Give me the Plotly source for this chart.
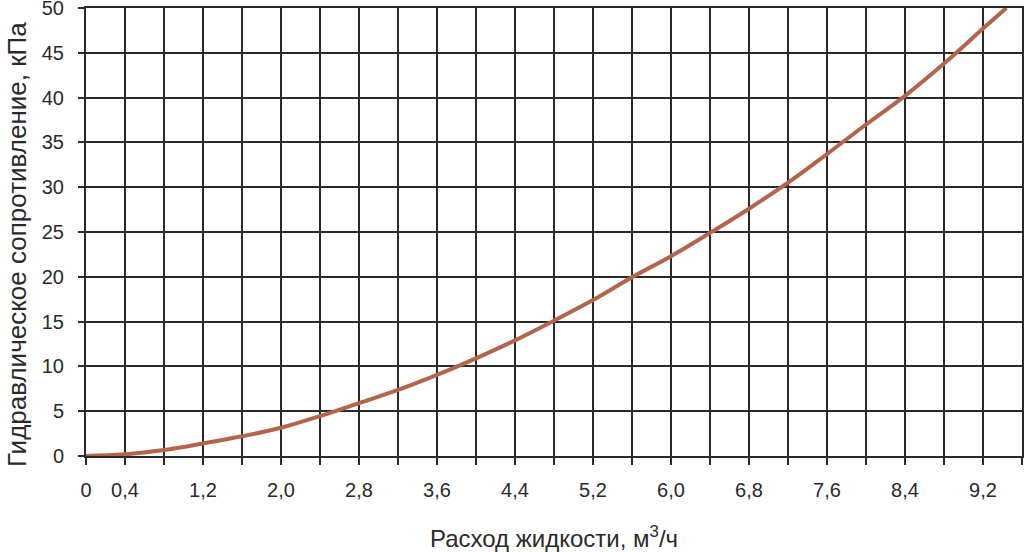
import plotly.graph_objects as go

# Data
flow = [0.0, 0.4, 0.8, 1.2, 1.6, 2.0, 2.4, 2.8, 3.2, 3.6, 4.0, 4.4, 4.8, 5.2,
        5.6, 6.0, 6.4, 6.8, 7.2, 7.6, 8.0, 8.4, 8.8, 9.2, 9.44]
pressure = [0.0, 0.19, 0.67, 1.40, 2.20, 3.15, 4.45, 5.9, 7.37, 9.05, 10.9, 12.9,
            15.1, 17.4, 19.95, 22.3, 24.9, 27.6, 30.5, 33.7, 37.0, 40.2, 43.8,
            47.7, 50.0]

x_tickvals = [0.0, 0.4, 0.8, 1.2, 1.6, 2.0, 2.4, 2.8, 3.2, 3.6, 4.0, 4.4, 4.8,
              5.2, 5.6, 6.0, 6.4, 6.8, 7.2, 7.6, 8.0, 8.4, 8.8, 9.2, 9.6]
x_ticktext = ["0", "0,4", "", "1,2", "", "2,0", "", "2,8", "", "3,6", "", "4,4",
              "", "5,2", "", "6,0", "", "6,8", "", "7,6", "", "8,4", "", "9,2", ""]
y_tickvals = [0, 5, 10, 15, 20, 25, 30, 35, 40, 45, 50]
y_ticktext = ["0", "5", "10", "15", "20", "25", "30", "35", "40", "45", "50"]

x_title = "Расход жидкости, м<sup>3</sup>/ч"
y_title = "Гидравлическое сопротивление, кПа"

grid = "#2a2a2a"
font = "Liberation Sans, Arial, sans-serif"

fig = go.Figure()
fig.add_trace(go.Scatter(
    x=flow, y=pressure, mode="lines",
    line=dict(color="#b3654c", width=4, shape="spline", smoothing=1.0),
    showlegend=False, hoverinfo="x+y",
))

fig.update_layout(
    width=1024, height=552,
    margin=dict(l=86, r=2, t=8, b=96, autoexpand=False),
    paper_bgcolor="white", plot_bgcolor="white",
    font=dict(family=font, size=20, color="#2a2a2a"),
    xaxis=dict(
        range=[0, 9.6], tickmode="array", tickvals=x_tickvals, ticktext=x_ticktext,
        showgrid=True, gridcolor=grid, gridwidth=2,
        showline=True, mirror=True, linecolor=grid, linewidth=2,
        zeroline=False, automargin=False,
        ticks="outside", ticklen=7, tickwidth=2, tickcolor=grid,
        ticklabelstandoff=8, ticklabeloverflow="allow",
        title=dict(text=x_title, font=dict(size=24, family=font, color="#2a2a2a"), standoff=30),
    ),
    yaxis=dict(
        range=[0, 50], tickmode="array", tickvals=y_tickvals, ticktext=y_ticktext,
        showgrid=True, gridcolor=grid, gridwidth=2,
        showline=True, mirror=True, linecolor=grid, linewidth=2,
        zeroline=False, automargin=False,
        ticks="outside", ticklen=6, tickwidth=2, tickcolor=grid,
        ticklabelstandoff=10, ticklabeloverflow="allow",
    ),
    annotations=[dict(
        text=y_title, xref="paper", yref="paper", x=-0.0737, y=0.471,
        xanchor="center", yanchor="middle", textangle=-90, showarrow=False,
        font=dict(size=26, family=font, color="#2a2a2a"),
    )],
)

fig.write_html("out.html")
